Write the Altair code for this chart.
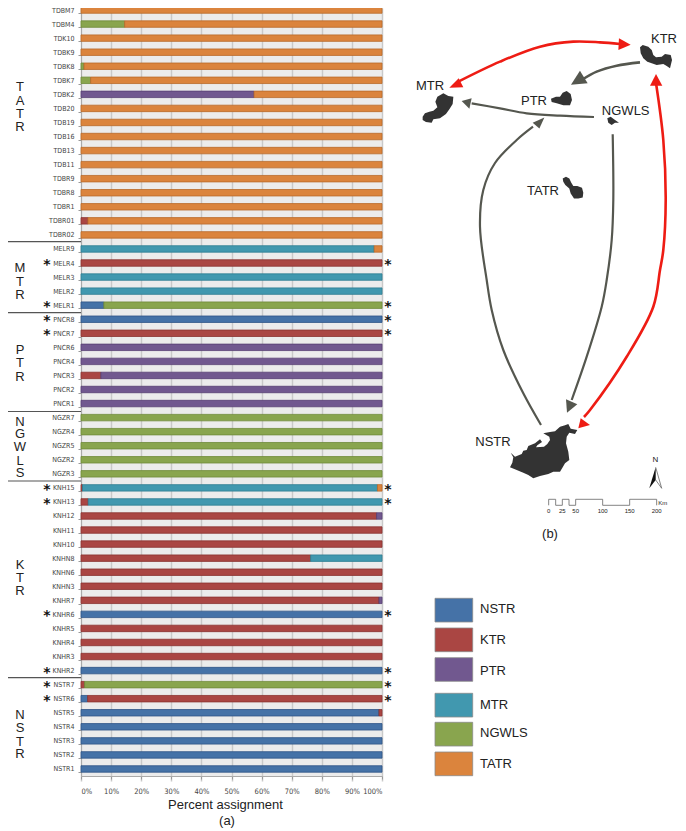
import altair as alt
import pandas as pd

samples = ["TDBM7","TDBM4","TDK10","TDBK9","TDBK8","TDBK7","TDBK2","TDB20","TDB19","TDB16","TDB13","TDB11","TDBR9","TDBR8","TDBR1","TDBR01","TDBR02",
           "MELR9","MELR4","MELR3","MELR2","MELR1",
           "PNCR8","PNCR7","PNCR6","PNCR4","PNCR3","PNCR2","PNCR1",
           "NGZR7","NGZR4","NGZR5","NGZR2","NGZR3",
           "KNH15","KNH13","KNH12","KNH11","KNH10","KNHN8","KNHN6","KNHN3","KNHR7","KNHR6","KNHR5","KNHR4","KNHR3","KNHR2",
           "NSTR7","NSTR6","NSTR5","NSTR4","NSTR3","NSTR2","NSTR1"]
nstr = [0]*17 + [0,0,0,0,7.6] + [100,0,0,0,0,0,0] + [0]*5 + [0,0,0,0,0,0,0,0,0,100,0,0,0,100] + [0,2.2,99,100,100,100,100]
ktr  = [0]*15 + [2.3,0] + [0,100,0,0,0] + [0,100,0,0,6.6,0,0] + [0]*5 + [0.5,2.4,98.2,100,100,76.3,100,100,99,0,100,100,100,0] + [1.2,97.8,1,0,0,0,0]
ptr  = [0,0,0,0,0,0,57.5,0,0,0,0,0,0,0,0,0,0] + [0]*5 + [0,0,100,100,93.4,100,100] + [0]*5 + [0,0,1.8,0,0,0,0,0,1,0,0,0,0,0] + [0]*7
mtr  = [0]*17 + [97.4,0,100,100,0] + [0]*7 + [0]*5 + [98.0,97.6,0,0,0,23.7,0,0,0,0,0,0,0,0] + [0]*7
ngwls= [0,14.5,0,0,1,3.2] + [0]*11 + [0,0,0,0,92.4] + [0]*7 + [100]*5 + [0]*14 + [98.8,0,0,0,0,0,0]
tatr = [100,85.5,100,100,99,96.8,42.5,100,100,100,100,100,100,100,100,97.7,100] + [2.6,0,0,0,0] + [0]*7 + [0]*5 + [1.5,0,0,0,0,0,0,0,0,0,0,0,0,0] + [0]*7
starred = ["MELR4","MELR1","PNCR8","PNCR7","KNH15","KNH13","KNHR6","KNHR2","NSTR7","NSTR6"]

pops = ["NSTR","KTR","PTR","MTR","NGWLS","TATR"]
series = [nstr,ktr,ptr,mtr,ngwls,tatr]
fills = ["#4572A7","#AA4643","#71588F","#4198AF","#89A54E","#DB843D"]
edges = ["#2f5487","#8a3230","#583f73","#2d7d92","#6f8a38","#b96a2a"]

rows = []
for k,(p,vals) in enumerate(zip(pops,series)):
    for s,v in zip(samples,vals):
        if v>0:
            rows.append({"sample":s,"pop":p,"v":v,"ord":k})
bars_df = pd.DataFrame(rows)

SANS = "Liberation Sans"
NARROW = "DejaVu Sans Condensed"
PLOT_W, PLOT_H = 301, 768

# shared scales
yband = alt.Scale(domain=samples, range=[-5,PLOT_H], paddingInner=0.54, paddingOuter=0.27)
xpct = alt.Scale(domain=[0,100], nice=False, zero=False)
# annotation scales: reference picture position
XS = alt.Scale(domain=[81,382], range=[0,PLOT_W], nice=False, zero=False)
YS = alt.Scale(domain=[8,776], range=[0,PLOT_H], nice=False, zero=False)
xmap = alt.X("x:Q", axis=None, scale=XS)
ymap = alt.Y("y:Q", axis=None, scale=YS)

bars = alt.Chart(bars_df).mark_bar(strokeWidth=0.8).encode(
    x=alt.X("v:Q", stack="zero", scale=xpct,
            axis=alt.Axis(values=list(range(0,101,10)), labelExpr="datum.value + '%'", grid=True,
                          gridColor="#c9c9c9", gridWidth=1.5, domainColor="#aaaaaa", tickColor="#999999",
                          tickSize=3, labelPadding=8, labelFont=NARROW, labelFontSize=7.5, labelColor="#444444",
                          title="Percent assignment", titleFont=SANS, titleFontSize=13, titleFontWeight="normal",
                          titleColor="#222222", titleX=144, titleY=28, titleBaseline="middle")),
    y=alt.Y("sample:N", sort=samples, scale=yband,
            axis=alt.Axis(title=None, grid=False, tickBand="extent", domainColor="#aaaaaa", tickColor="#999999",
                          tickSize=3, labelPadding=4, labelFont=NARROW, labelFontSize=7, labelColor="#444444", labelOverlap=False)),
    color=alt.Color("pop:N", legend=None, scale=alt.Scale(domain=pops, range=fills)),
    stroke=alt.Stroke("pop:N", legend=None, scale=alt.Scale(domain=pops, range=edges)),
    order=alt.Order("ord:Q"),
)

# asterisks beside the flagged samples
star_rows = [{"sample":s,"p":p} for s in starred for p in (-11.3,102)]
stars = alt.Chart(pd.DataFrame(star_rows)).mark_text(text="*", font="DejaVu Sans", fontWeight="bold", fontSize=14, dy=2, color="#111111").encode(
    x=alt.X("p:Q", scale=xpct, axis=None),
    y=alt.Y("sample:N", sort=samples, scale=yband, axis=None),
)

# group separators
sep_y = [241.7,312.7,411.5,481,677.7]
sep_df = pd.DataFrame([{"g":i,"x":a,"y":y} for i,y in enumerate(sep_y) for a in (3,81)])
seps = alt.Chart(sep_df).mark_line(color="#555555", strokeWidth=1.2).encode(x=xmap, y=ymap, detail="g:N")

# vertical group labels
group_letters = [("T",87),("A",101),("T",114),("R",127),
                 ("M",268),("T",282),("R",295),
                 ("P",350),("T",363),("R",377),
                 ("N",422),("G",434),("W",447),("L",461),("S",473),
                 ("K",565),("T",578),("R",591),
                 ("N",715),("S",728),("T",742),("R",754)]
lett_df = pd.DataFrame([{"t":t,"x":20,"y":y} for t,y in group_letters])
letters = alt.Chart(lett_df).mark_text(font=SANS, fontSize=13, color="#222222", baseline="middle").encode(x=xmap, y=ymap, text="t:N")

# legend
leg_y = [(598.3,622),(628,651.7),(657.7,681.3),(693.3,717),(722.3,746),(752,775.7)]
leg_df = pd.DataFrame([{"x":435,"x2":472.7,"y":a,"y2":b,"pop":p,"f":f,"tx":480,"ty":ty}
                       for (a,b),p,f,ty in zip(leg_y,pops,fills,[608.5,640,671,704.5,732.5,763.5])])
leg_rect = alt.Chart(leg_df).mark_rect(stroke="#8a8a8a", strokeWidth=0.8).encode(
    x=xmap, x2="x2:Q", y=ymap, y2="y2:Q", fill=alt.Fill("f:N", scale=None))
leg_txt = alt.Chart(leg_df).mark_text(font=SANS, fontSize=13, align="left", baseline="middle", color="#222222").encode(
    x=alt.X("tx:Q", axis=None, scale=XS), y=alt.Y("ty:Q", axis=None, scale=YS), text="pop:N")

# map: island outlines, arrowheads
GRAY="#55574f"; RED="#ee1c14"; DARK="#333333"
z4 = lambda pts: [(x/3+400, y/3) for x,y in pts]
z7 = lambda pts: [(x/3+460, y/3+270) for x,y in pts]
polys = [
 (z4([(68,350),(75,340),(88,335),(100,332),(112,322),(106,305),(112,290),(130,280),(145,288),(160,290),(158,312),(148,328),(138,342),(120,355),(100,358),(95,368),(78,366),(68,360)]),DARK),
 (z4([(453,296),(468,290),(480,290),(488,278),(500,273),(512,282),(516,300),(510,316),(490,316),(470,310),(455,306)]),DARK),
 (z4([(622,355),(632,350),(642,358),(657,368),(645,368),(635,375),(625,368)]),DARK),
 (z4([(720,142),(728,135),(745,140),(755,150),(760,165),(768,172),(785,170),(795,162),(812,165),(816,180),(810,205),(800,198),(790,192),(770,195),(755,190),(742,185),(730,175),(722,160)]),DARK),
 (z4([(488,535),(498,530),(508,535),(514,548),(520,558),(532,558),(546,563),(550,578),(548,592),(535,595),(522,595),(512,580),(508,565),(496,555),(490,545)]),DARK),
 (z7([(150,592),(157,578),(160,562),(152,548),(165,560),(185,552),(190,542),(200,540),(205,528),(225,520),(240,508),(246,516),(232,526),(228,532),(252,530),(262,522),(270,510),(268,500),(250,490),(270,486),(285,484),(300,470),(315,466),(325,462),(332,476),(352,480),(345,492),(328,488),(320,500),(318,520),(325,545),(328,570),(315,580),(308,592),(300,605),(280,605),(265,612),(240,618),(220,625),(205,615),(190,608),(170,600)]),DARK),
 # arrowheads
 (z4([(148,263),(176,235),(190,262)]),RED),
 (z4([(692,134),(657,115),(655,150)]),RED),
 (z4([(513,254),(540,212),(563,250)]),GRAY),
 (z4([(185,303),(215,295),(208,326)]),GRAY),
 (z4([(433,352),(398,368),(418,385)]),GRAY),
 (z7([(321,428),(318,388),(352,403)]),GRAY),
 (z4([(768,222),(750,257),(787,257)]),RED),
 (z7([(355,475),(362,445),(390,465)]),RED),
 # north arrow, left half
 ([(655.7,467.3),(649.3,488.3),(655.7,480)],"#111111"),
]
poly_rows=[]
for pts,c in polys:
    cx=sum(p[0] for p in pts)/len(pts); cy=sum(p[1] for p in pts)/len(pts)
    d="M"+"L".join(f"{x-cx:.1f},{y-cy:.1f}" for x,y in pts)+"Z"
    poly_rows.append({"x":cx,"y":cy,"d":d,"c":c})
poly_layer = alt.Chart(pd.DataFrame(poly_rows)).mark_point(filled=True, opacity=1, strokeWidth=0).encode(
    x=xmap, y=ymap, shape=alt.Shape("d:N", scale=None, legend=None), fill=alt.Fill("c:N", scale=None), size=alt.value(4))

curves = [
 (z4([(175,245),(300,185),(420,140),(520,125),(600,127),(660,132)]),RED,2.6),
 (z4([(720,187),(650,197),(590,215),(545,240)]),GRAY,2.6),
 (z4([(582,351),(480,347),(380,340),(300,325),(215,310)]),GRAY,2.2),
 ([(541,425),(523.3,393.3),(503.3,350),(491.7,310),(486.7,280),(480,226.7),(483.3,190),(495,163),(516.7,140),(533,126.7)],GRAY,2.2),
 ([(612.7,134.3),(613.3,200),(611.7,240),(606.7,280),(601.7,306.7),(586.7,356.7),(571.7,400)],GRAY,2.2),
 ([(656,83),(663.3,140),(665.7,200),(663.3,250),(660,270),(653.3,306.7),(626.7,356.7),(590,410),(584,417)],RED,2.6),
]
curve_rows=[]
for g,(pts,c,w) in enumerate(curves):
    for i,(x,y) in enumerate(pts):
        curve_rows.append({"g":g,"i":i,"x":x,"y":y,"c":c,"w":w})
curve_layer = alt.Chart(pd.DataFrame(curve_rows)).mark_line(interpolate="catmull-rom").encode(
    x=xmap, y=ymap, detail="g:N", order="i:Q",
    stroke=alt.Stroke("c:N", scale=None), strokeWidth=alt.StrokeWidth("w:Q", scale=None))

# north arrow outline and scale bar
sb = [446,467,487,507,527,608,689,770]
sb_pts=[]
for i,x in enumerate(sb):
    a,b = (505.3,499.3) if i%2==0 else (499.3,505.3)
    sb_pts += [(x/3+400,a),(x/3+400,b)]
sb_rows=[{"g":"bar","i":i,"x":x,"y":y} for i,(x,y) in enumerate(sb_pts)]
sb_rows += [{"g":"north","i":i,"x":x,"y":y} for i,(x,y) in enumerate([(655.7,467.3),(661.7,488.3),(655.7,480)])]
sb_layer = alt.Chart(pd.DataFrame(sb_rows)).mark_line(color="#666666", strokeWidth=0.8).encode(
    x=xmap, y=ymap, detail="g:N", order="i:Q")

map_text = [("MTR",430,86,13),("PTR",534,101,13),("NGWLS",625.7,111,13),("KTR",664,39,13),("TATR",543,191,13),("NSTR",493,442,13),
            ("(b)",550,534,13),("(a)",227,821,13),("N",655.3,460.3,8),
            ("0",548.7,510.5,6),("25",562.3,510.5,6),("50",575.7,510.5,6),("100",602.7,510.5,6),("150",629.7,510.5,6),("200",656.7,510.5,6),("Km",662.7,503,6)]
txt_df = pd.DataFrame([{"t":t,"x":x,"y":y,"s":s} for t,x,y,s in map_text])
txt_layer = alt.Chart(txt_df).mark_text(font=SANS, baseline="middle", color="#222222").encode(
    x=xmap, y=ymap, text="t:N", size=alt.Size("s:Q", scale=None))

chart = alt.layer(bars, stars, seps, letters, leg_rect, leg_txt, curve_layer, poly_layer, sb_layer, txt_layer).resolve_scale(
    x="independent", y="independent", color="independent", fill="independent", stroke="independent", shape="independent", size="independent", strokeWidth="independent"
).properties(
    width=PLOT_W, height=PLOT_H,
    autosize=alt.AutoSizeParams(type="none"),
    padding={"left":73,"top":0,"right":296,"bottom":55},
    background="white",
).configure_view(fill="#ececec", stroke=None)

chart.save("out.html", embed_options={"renderer": "svg", "actions": False})
